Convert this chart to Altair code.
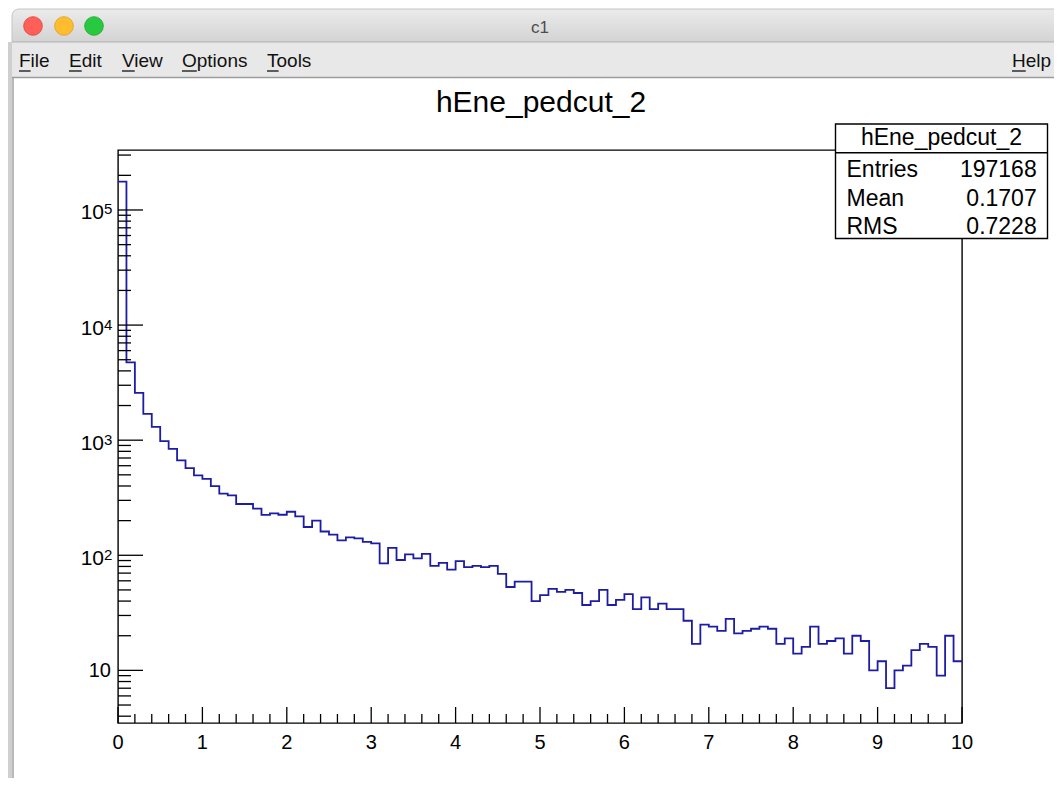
import altair as alt
import pandas as pd

# ---------------- data ----------------
bin_width = 0.1
counts = [176000, 4750, 2580, 1695, 1306, 980, 842, 667, 571, 494,
          462, 399, 343, 331, 279, 279, 254, 224, 231, 225,
          239, 218, 176, 200, 161, 151, 135, 143, 140, 131,
          127, 85, 116, 91, 102, 94, 103, 81, 86, 75,
          89, 79, 81, 79, 81, 69, 53, 59, 59, 40,
          45, 51, 48, 50, 47, 37, 40, 50, 37, 41,
          46, 34, 43, 34, 38, 34, 34, 27, 17, 25,
          24, 22, 28, 21, 22, 23, 24, 23, 17, 19,
          14, 16, 24, 17, 18, 19, 14, 20, 18, 10,
          12, 7, 10, 11, 15, 17, 16, 9, 20, 12]

x_major = [0, 1, 2, 3, 4, 5, 6, 7, 8, 9, 10]
x_labels = ["0", "1", "2", "3", "4", "5", "6", "7", "8", "9", "10"]
x_minor = [round(0.2 * k, 1) for k in range(1, 50) if k % 5 != 0]
y_major = [10, 100, 1000, 10000, 100000]
y_base = ["10", "10", "10", "10", "10"]
y_exponent = ["", "2", "3", "4", "5"]
y_lo, y_hi = 3.49, 3.32e5
y_minor = [m * 10 ** e for e in range(0, 6) for m in range(2, 10)
           if y_lo <= m * 10 ** e <= y_hi]

title_text = "hEne_pedcut_2"
stats_names = ["Entries", "Mean", "RMS"]
stats_values = ["197168", "0.1707", "0.7228"]
menu_items = ["File", "Edit", "View", "Options", "Tools", "Help"]
window_title = "c1"

# ---------------- geometry ----------------
FONT = "Liberation Sans"
OX, OY = 118, 150          # page position of plot origin
W, H = 844, 573

def rx(p):
    return p - OX

def ry(p):
    return p - OY

dummy = pd.DataFrame({"k": [0]})
xscale = alt.Scale(domain=[0, 10], nice=False, zero=False)
yscale = alt.Scale(type="log", domain=[y_lo, y_hi], nice=False)

layers = []

def rect(x1, y1, x2, y2, **kw):
    return alt.Chart(dummy).mark_rect(**kw).encode(
        x=alt.value(rx(x1)), x2=alt.value(rx(x2)),
        y=alt.value(ry(y1)), y2=alt.value(ry(y2)))

def hline(x1, x2, y, color, width=1.0):
    return alt.Chart(dummy).mark_rule(color=color, strokeWidth=width).encode(
        x=alt.value(rx(x1)), x2=alt.value(rx(x2)), y=alt.value(ry(y)))

def vline(x, y1, y2, color, width=1.0):
    return alt.Chart(dummy).mark_rule(color=color, strokeWidth=width).encode(
        x=alt.value(rx(x)), y=alt.value(ry(y1)), y2=alt.value(ry(y2)))

def text(s, x, y, **kw):
    return alt.Chart(dummy).mark_text(text=s, font=FONT, baseline="alphabetic", **kw).encode(
        x=alt.value(rx(x)), y=alt.value(ry(y)))

# window chrome
layers.append(rect(8, 42, 14, 800, color="#cfcfcf"))
layers.append(vline(13, 42, 800, "#a9a9a9", 1.2))
layers.append(rect(12, 9, 1080, 42, cornerRadiusTopLeft=7,
                   fill=alt.Gradient(gradient="linear",
                                     stops=[alt.GradientStop(color="#ebebeb", offset=0),
                                            alt.GradientStop(color="#d3d3d3", offset=1)],
                                     x1=0, x2=0, y1=0, y2=1),
                   stroke="#c4c4c4", strokeWidth=1))
layers.append(rect(12, 42, 1080, 78, color="#e8e8e8"))
layers.append(hline(12, 1080, 42, "#b3b3b3", 1.2))
layers.append(hline(12, 1080, 77.5, "#9c9c9c", 1.5))
for cx, fill, stroke in [(33, "#fe5f57", "#e0443e"), (64, "#febc2e", "#dea123"),
                         (94, "#28c840", "#1aab29")]:
    layers.append(alt.Chart(dummy).mark_circle(size=350, fill=fill, stroke=stroke,
                                               strokeWidth=0.8, opacity=1).encode(
        x=alt.value(rx(cx)), y=alt.value(ry(26))))
layers.append(text(window_title, 540, 33, fontSize=17, color="#4d4d4d", align="center"))

menu_x = [19, 69, 122, 182, 267, 1012]
first_w = [11.6, 12.7, 12.7, 14.8, 11.6, 13.7]
for item, mx, fw in zip(menu_items, menu_x, first_w):
    layers.append(text(item, mx, 66.7, fontSize=19, color="#111111", align="left"))
    layers.append(hline(mx, mx + fw, 71, "#111111", 1.3))

# histogram title
layers.append(text(title_text, 541, 111.5, fontSize=30, color="black", align="center"))

# histogram line
hist_df = pd.DataFrame({"x": [i * bin_width for i in range(len(counts) + 1)],
                        "count": counts + [counts[-1]]})
layers.append(alt.Chart(hist_df).mark_line(interpolate="step-after", color="#1c1ca4",
                                           strokeWidth=1.8).encode(
    x=alt.X("x:Q", scale=xscale, axis=None),
    y=alt.Y("count:Q", scale=yscale, axis=None)))

# inward ticks
layers.append(alt.Chart(pd.DataFrame({"x": x_major})).mark_rule(color="black", strokeWidth=1.3).encode(
    x=alt.X("x:Q", scale=xscale, axis=None), y=alt.value(H), y2=alt.value(H - 16)))
layers.append(alt.Chart(pd.DataFrame({"x": x_minor})).mark_rule(color="black", strokeWidth=1.3).encode(
    x=alt.X("x:Q", scale=xscale, axis=None), y=alt.value(H), y2=alt.value(H - 9)))
layers.append(alt.Chart(pd.DataFrame({"count": y_major})).mark_rule(color="black", strokeWidth=1.3).encode(
    y=alt.Y("count:Q", scale=yscale, axis=None), x=alt.value(0), x2=alt.value(25)))
layers.append(alt.Chart(pd.DataFrame({"count": y_minor})).mark_rule(color="black", strokeWidth=1.3).encode(
    y=alt.Y("count:Q", scale=yscale, axis=None), x=alt.value(0), x2=alt.value(13)))

# x labels
xlab = pd.DataFrame({"x": x_major, "lab": x_labels})
layers.append(alt.Chart(xlab).mark_text(font=FONT, fontSize=20, align="center",
                                        baseline="alphabetic", color="black").encode(
    x=alt.X("x:Q", scale=xscale, axis=None), y=alt.value(ry(748.5)), text="lab:N"))

# y labels 10, 10^2 ...
ylab = pd.DataFrame({"count": y_major, "base": y_base, "exp": y_exponent})
layers.append(alt.Chart(ylab.iloc[:1]).mark_text(font=FONT, fontSize=20, align="right",
                                                  baseline="middle", dy=1, color="black").encode(
    y=alt.Y("count:Q", scale=yscale, axis=None), x=alt.value(-7), text="base:N"))
layers.append(alt.Chart(ylab.iloc[1:]).mark_text(font=FONT, fontSize=21, align="right",
                                                  baseline="middle", dy=3.5, color="black").encode(
    y=alt.Y("count:Q", scale=yscale, axis=None), x=alt.value(-14), text="base:N"))
layers.append(alt.Chart(ylab.iloc[1:]).mark_text(font=FONT, fontSize=15, align="left",
                                                  baseline="middle", dy=-0.5, color="black").encode(
    y=alt.Y("count:Q", scale=yscale, axis=None), x=alt.value(-14), text="exp:N"))

# stats box
layers.append(rect(835.5, 124, 1047.5, 238.5, fill="white", stroke="black", strokeWidth=1.4))
layers.append(hline(835.5, 1047.5, 152.7, "black", 1.4))
layers.append(text(title_text, 941.5, 145, fontSize=23, color="black", align="center"))
for name, val, by in zip(stats_names, stats_values, [176.7, 206, 234]):
    layers.append(text(name, 846.5, by, fontSize=23, color="black", align="left"))
    layers.append(text(val, 1036.7, by, fontSize=23, color="black", align="right"))

chart = alt.layer(*layers).properties(
    width=W, height=H,
    autosize=alt.AutoSizeParams(type="none"),
    padding={"left": 110, "top": 142, "right": 1046 - 110 - W, "bottom": 770 - 142 - H},
    background="white",
).configure_view(stroke="black", strokeWidth=1.4)

chart.save("out.html", embed_options={"renderer": "svg", "actions": False})
